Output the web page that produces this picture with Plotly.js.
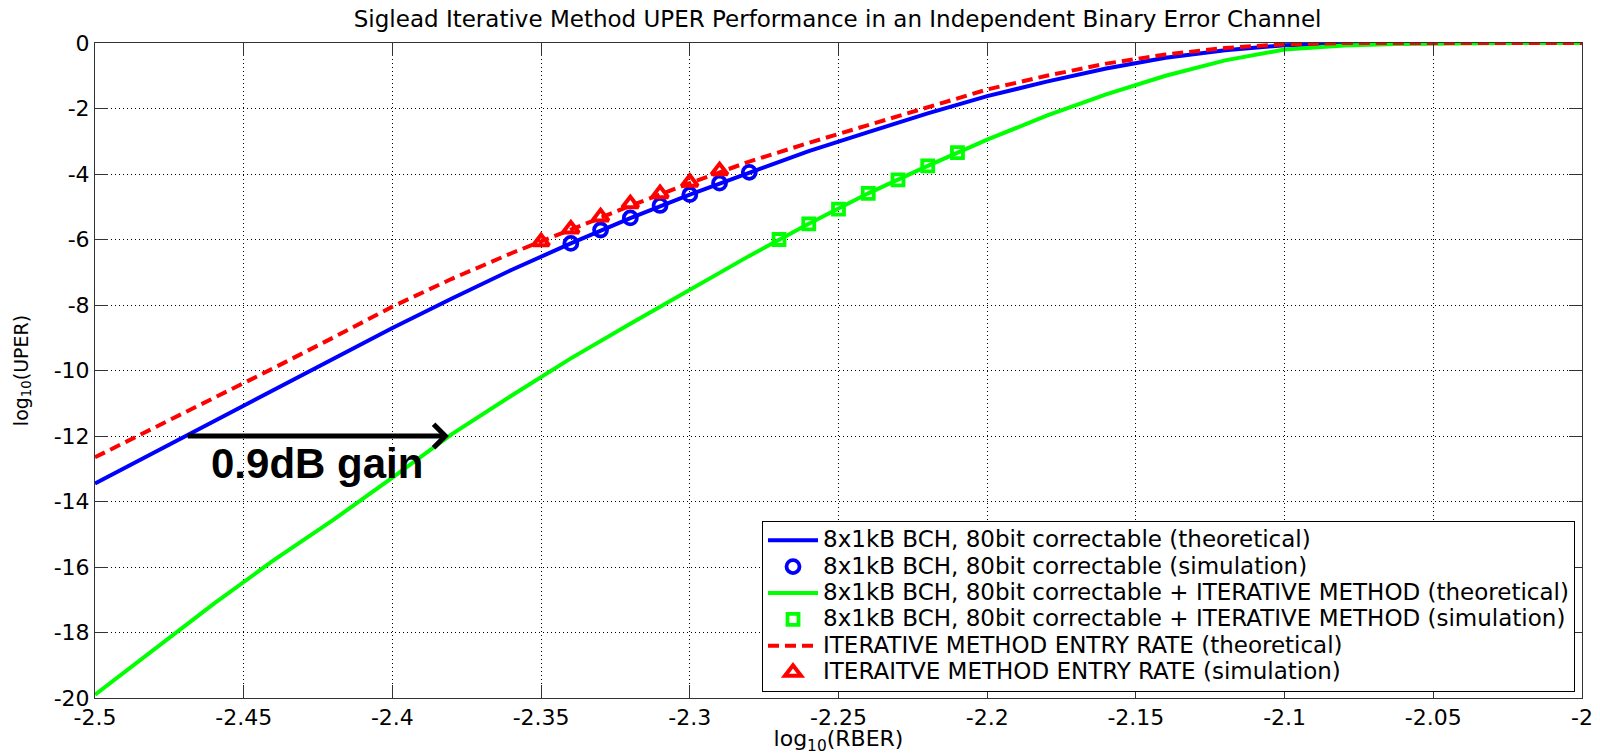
<!DOCTYPE html>
<html>
<head>
<meta charset="utf-8">
<script src="https://cdn.plot.ly/plotly-3.0.1.min.js"></script>
<style>html,body{margin:0;padding:0;background:#fff;}#chart{width:1600px;height:755px;}</style>
</head>
<body>
<div id="chart"></div>
<script>
// ---- data ----
const xTheory = [-2.50,-2.48,-2.46,-2.44,-2.42,-2.40,-2.38,-2.36,-2.34,-2.32,-2.30,-2.28,-2.26,-2.24,-2.22,-2.20,-2.18,-2.16,-2.14,-2.12,-2.10,-2.08,-2.06,-2.04,-2.02,-2.00];
const bchTheory = [-13.45,-12.5,-11.55,-10.6,-9.65,-8.7,-7.8,-6.93,-6.12,-5.35,-4.63,-3.95,-3.3,-2.72,-2.15,-1.62,-1.18,-0.78,-0.45,-0.22,-0.07,-0.02,0,0,0,0];
const iterTheory = [-19.9,-18.5,-17.12,-15.8,-14.57,-13.27,-11.94,-10.77,-9.63,-8.57,-7.55,-6.5,-5.52,-4.59,-3.75,-2.95,-2.22,-1.57,-1.0,-0.53,-0.2,-0.08,-0.02,0,0,0];
const entryTheory = [-12.65,-11.75,-10.85,-9.93,-9.0,-8.05,-7.2,-6.42,-5.7,-4.97,-4.28,-3.62,-3.05,-2.5,-1.95,-1.42,-1.0,-0.63,-0.35,-0.15,-0.04,0,0,0,0,0];

const xBchSim = [-2.34,-2.33,-2.32,-2.31,-2.30,-2.29,-2.28];
const bchSim = [-6.12,-5.71,-5.34,-4.96,-4.63,-4.28,-3.95];
const xIterSim = [-2.27,-2.26,-2.25,-2.24,-2.23,-2.22,-2.21];
const iterSim = [-6.0,-5.52,-5.07,-4.59,-4.18,-3.75,-3.35];
const xEntrySim = [-2.35,-2.34,-2.33,-2.32,-2.31,-2.30,-2.29];
const entrySim = [-6.07,-5.68,-5.31,-4.91,-4.6,-4.25,-3.9];

const seriesNames = [
  '8x1kB BCH, 80bit correctable (theoretical)',
  '8x1kB BCH, 80bit correctable (simulation)',
  '8x1kB BCH, 80bit correctable + ITERATIVE METHOD (theoretical)',
  '8x1kB BCH, 80bit correctable + ITERATIVE METHOD (simulation)',
  'ITERATIVE METHOD ENTRY RATE (theoretical)',
  'ITERAITVE METHOD ENTRY RATE (simulation)'
];

const xTickVals = [-2.5,-2.45,-2.4,-2.35,-2.3,-2.25,-2.2,-2.15,-2.1,-2.05,-2];
const xTickText = ['-2.5','-2.45','-2.4','-2.35','-2.3','-2.25','-2.2','-2.15','-2.1','-2.05','-2'];
const yTickVals = [-20,-18,-16,-14,-12,-10,-8,-6,-4,-2,0];
const yTickText = ['-20','-18','-16','-14','-12','-10','-8','-6','-4','-2','0'];

const gainLevel = -12;
const gainFromX = -2.47;
const gainToX = -2.381;
const gainLabel = '0.9dB gain';

// legend text a bit wider than its row height implies (reference is horizontally stretched)
function legendName(s) { return '<span style="font-size:23px">' + s + '</span>'; }

// ---- traces ----
const BLUE = '#0000ff', GREEN = '#00ff00', RED = '#ff0000';
const traces = [
  {x: xTheory, y: bchTheory, name: legendName(seriesNames[0]), mode: 'lines', line: {color: BLUE, width: 4}},
  {x: xBchSim, y: bchSim, name: legendName(seriesNames[1]), mode: 'markers',
   marker: {symbol: 'circle-open', color: BLUE, size: 13, line: {width: 3.8, color: BLUE}}},
  {x: xTheory, y: iterTheory, name: legendName(seriesNames[2]), mode: 'lines', line: {color: GREEN, width: 4}},
  {x: xIterSim, y: iterSim, name: legendName(seriesNames[3]), mode: 'markers',
   marker: {symbol: 'square-open', color: GREEN, size: 11, line: {width: 3.8, color: GREEN}}},
  {x: xTheory, y: entryTheory, name: legendName(seriesNames[4]), mode: 'lines', line: {color: RED, width: 4, dash: '11px,6px'}},
  {x: xEntrySim, y: entrySim, name: legendName(seriesNames[5]), mode: 'markers',
   marker: {symbol: 'triangle-up-open', color: RED, size: 14, line: {width: 4, color: RED}}}
];

const axisCommon = {
  showline: true, linecolor: '#333', linewidth: 1, mirror: 'ticks',
  ticks: 'inside', ticklen: 13, tickcolor: '#333', tickwidth: 1,
  showgrid: true, gridcolor: '#000', griddash: '1px,3px', gridwidth: 1,
  zeroline: false, tickfont: {size: 22, color: '#000'}
};

const layout = {
  width: 1600, height: 755,
  margin: {l: 95, r: 18, t: 43, b: 57},
  paper_bgcolor: '#fff', plot_bgcolor: '#fff',
  font: {family: 'DejaVu Sans, Arial, sans-serif', color: '#000'},
  title: {text: 'Siglead Iterative Method UPER Performance in an Independent Binary Error Channel',
          font: {size: 23, color: '#000'}, x: 0.5235, xanchor: 'center', y: 1 - 19/755, yanchor: 'middle', yref: 'container'},
  xaxis: Object.assign({}, axisCommon, {
    range: [-2.5, -2], tickvals: xTickVals, ticktext: xTickText,
    title: {text: 'log<sub>10</sub>(RBER)', font: {size: 22}, standoff: 5}
  }),
  yaxis: Object.assign({}, axisCommon, {
    range: [-20, 0], tickvals: yTickVals, ticktext: yTickText,
    title: {text: 'log<sub>10</sub>(UPER)', font: {size: 19}, standoff: 20}
  }),
  showlegend: true,
  legend: {x: 0.9953, xanchor: 'right', y: 0.0092, yanchor: 'bottom',
           bgcolor: '#fff', bordercolor: '#000', borderwidth: 1,
           font: {size: 18, color: '#000'}, itemwidth: 50, tracegroupgap: 0},
  annotations: [
    {x: gainToX, y: gainLevel, ax: gainFromX, ay: gainLevel, xref: 'x', yref: 'y', axref: 'x', ayref: 'y',
     text: ' ', showarrow: true, arrowhead: 4, arrowsize: 0.9, arrowwidth: 5, arrowcolor: '#000', standoff: 0, startstandoff: 0},
    {x: (gainFromX + gainToX) / 2, y: gainLevel - 0.85, xref: 'x', yref: 'y', text: '<b>' + gainLabel + '</b>',
     showarrow: false, xanchor: 'center', yanchor: 'middle',
     font: {family: 'Liberation Sans, Arial, sans-serif', size: 42, color: '#000'}}
  ]
};

Plotly.newPlot('chart', traces, layout, {displayModeBar: false, staticPlot: true});
</script>
</body>
</html>
